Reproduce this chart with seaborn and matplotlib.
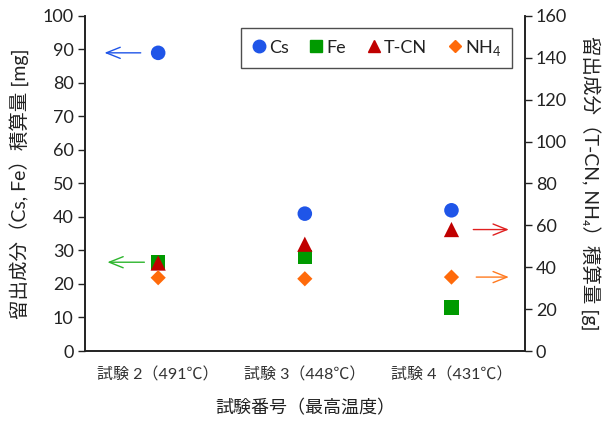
import matplotlib
matplotlib.use("Agg")
import matplotlib.pyplot as plt
import seaborn as sns
import pandas as pd
from matplotlib.lines import Line2D

sns.set_theme(style="white")
plt.rcParams['font.family'] = ['Lato', 'Noto Sans CJK JP', 'DejaVu Sans']
plt.rcParams['mathtext.fontset'] = 'custom'
plt.rcParams['mathtext.rm'] = 'Lato'

tests = ["試験 2（491℃）", "試験 3（448℃）", "試験 4（431℃）"]
cs = [89, 41, 42]        # mg
fe = [26.5, 28, 13]      # mg
tcn = [42, 51, 58]       # g
nh4 = [35, 34.5, 35.3]   # g

c_cs, c_fe, c_tcn, c_nh4 = "#1F55E8", "#009A00", "#C00000", "#FF6A0A"

fig = plt.figure(figsize=(6.06, 4.32), dpi=100)
ax = fig.add_axes([0.140, 0.1875, 0.726, 0.7755])
ax2 = ax.twinx()

xpos = list(range(len(tests)))
df = pd.DataFrame({"x": xpos, "cs": cs, "fe": fe, "tcn": tcn, "nh4": nh4})

sns.scatterplot(data=df, x="x", y="cs", ax=ax, marker="o", s=110, color=c_cs,
                edgecolor="none", zorder=3)
sns.scatterplot(data=df, x="x", y="fe", ax=ax, marker="s", s=110, color=c_fe,
                edgecolor="none", zorder=3)
sns.scatterplot(data=df, x="x", y="tcn", ax=ax2, marker="^", s=120, color=c_tcn,
                edgecolor="none", zorder=4)
sns.scatterplot(data=df, x="x", y="nh4", ax=ax2, marker="D", s=60, color=c_nh4,
                edgecolor="none", zorder=4)

ax.set_xlim(-0.5, 2.5)
ax.set_ylim(0, 100)
ax2.set_ylim(0, 160)
ax.set_yticks(range(0, 101, 10))
ax2.set_yticks(range(0, 161, 20))
ax.set_xticks(xpos)
ax.set_xticklabels(tests)

for a in (ax, ax2):
    a.spines['top'].set_visible(False)
    for s in ('left', 'right', 'bottom'):
        a.spines[s].set_color('#222222')
        a.spines[s].set_linewidth(1.2)
    a.grid(False)

ax.tick_params(axis='y', which='both', direction='out', length=5, width=1,
               color='#222222', labelsize=13, labelcolor='#222222', pad=3, left=True)
ax.tick_params(axis='x', length=0, labelsize=11.5, labelcolor='#333333', pad=12)
ax2.tick_params(axis='y', direction='out', length=5, width=1, color='#222222',
                labelsize=13, labelcolor='#222222', pad=3, right=True)

ax.set_xlabel("試験番号（最高温度）", fontsize=13, color='#222222', labelpad=12)
ax.set_ylabel("留出成分（Cs, Fe）積算量 [mg]", fontsize=14, color='#222222', labelpad=10)
ax2.set_ylabel("留出成分（T-CN, NH₄）積算量 [g]", fontsize=14, color='#222222',
               rotation=-90, labelpad=24)

# arrows pointing to the axis each series is read against
arrow_kw = dict(arrowstyle="->,head_length=0.5,head_width=0.2", lw=1.0,
                mutation_scale=20)
ax.annotate("", xy=(-0.385, 89), xytext=(-0.10, 89),
            arrowprops=dict(color=c_cs, **arrow_kw))
ax.annotate("", xy=(-0.365, 26.5), xytext=(-0.075, 26.5),
            arrowprops=dict(color="#2DB52D", **arrow_kw))
ax2.annotate("", xy=(2.41, 58), xytext=(2.13, 58),
             arrowprops=dict(color="#E02020", **arrow_kw))
ax2.annotate("", xy=(2.41, 35.3), xytext=(2.15, 35.3),
             arrowprops=dict(color="#FF7A20", **arrow_kw))

handles = [
    Line2D([], [], ls='none', marker='o', ms=9, color=c_cs, label='Cs'),
    Line2D([], [], ls='none', marker='s', ms=8, color=c_fe, label='Fe'),
    Line2D([], [], ls='none', marker='^', ms=9, color=c_tcn, label='T-CN'),
    Line2D([], [], ls='none', marker='D', ms=6.5, color=c_nh4, label='NH$_4$'),
]
leg = ax2.legend(handles=handles, loc='upper right', bbox_to_anchor=(0.97, 0.965),
                 ncol=4, frameon=True, fancybox=False, fontsize=13,
                 handletextpad=0.1, columnspacing=1.1, borderpad=0.55,
                 handlelength=0.9, borderaxespad=0)
leg.get_frame().set_edgecolor('#222222')
leg.get_frame().set_linewidth(1.0)
for t in leg.get_texts():
    t.set_color('#222222')

fig.savefig("out.png", dpi=100)
